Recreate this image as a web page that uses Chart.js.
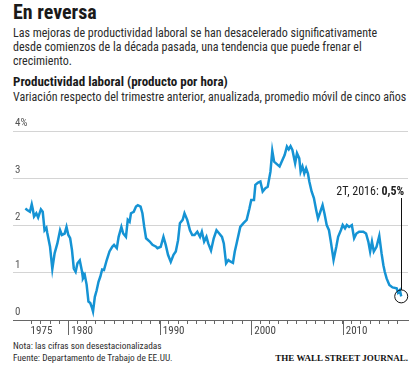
<!DOCTYPE html>
<html lang="es">
<head>
    <meta charset="UTF-8">
    <title>En reversa</title>
    <script src="https://cdn.jsdelivr.net/npm/chart.js@4"></script>
    <style>
        body, html {
            margin: 0;
            padding: 0;
            width: 420px;
            height: 368px;
            overflow: hidden;
            background: #fff;
            font-family: 'Roboto Condensed', Roboto, sans-serif;
            color: #2b2b2b;
        }
        .txt { position: absolute; left: 13px; white-space: nowrap; }
        .title { top: 0; font-size: 20px; font-weight: bold; line-height: 24px; color: #1a1a1a; }
        .dek { top: 26px; font-size: 12px; line-height: 14px; }
        .head { top: 74px; font-size: 13px; font-weight: bold; line-height: 16px; color: #1a1a1a; }
        .sub { top: 89px; font-size: 12px; line-height: 16px; }
        .notes { top: 340px; font-size: 9.3px; line-height: 12.3px; }
        .wsj {
            position: absolute; right: 12px; top: 352px;
            font-family: 'Liberation Serif', serif; font-weight: bold;
            font-size: 9px; line-height: 12px; color: #111;
        }
        #chartBox { position: absolute; left: 0; top: 110px; width: 420px; height: 230px; }
    </style>
</head>
<body>
    <div class="txt title">En reversa</div>
    <div class="txt dek">Las mejoras de productividad laboral se han desacelerado significativamente<br>desde comienzos de la década pasada, una tendencia que puede frenar el<br>crecimiento.</div>
    <div class="txt head">Productividad laboral (producto por hora)</div>
    <div class="txt sub">Variación respecto del trimestre anterior, anualizada, promedio móvil de cinco años</div>

    <div id="chartBox"><canvas id="prodChart" width="420" height="230"></canvas></div>

    <div class="txt notes">Nota: las cifras son desestacionalizadas<br>Fuente: Departamento de Trabajo de EE.UU.</div>
    <div class="wsj">THE WALL STREET JOURNAL.</div>

    <script>
        // quarter positions (decimal years) and 5-yr moving average values, %
        const years = [1975.3,1975.5,1975.8,
            1976.0,1976.1,1976.25,1976.5,1976.7,
            1977.0,1977.2,1977.4,1977.6,1977.7,
            1978.0,1978.25,1978.5,1978.8,
            1979.1,1979.3,1979.6,1979.8,
            1980.0,1980.2,1980.4,1980.6,1980.8,
            1981.0,1981.25,1981.5,1981.6,1981.8,
            1982.0,1982.2,1982.4,1982.6,1982.7,1982.9,
            1983.1,1983.3,1983.5,1983.7,1983.9,
            1984.2,1984.5,1984.8,
            1985.0,1985.3,1985.5,1985.8,
            1986.0,1986.3,1986.5,1986.7,1986.85,
            1987.15,1987.4,1987.6,1987.9,
            1988.1,1988.3,1988.5,1988.9,
            1989.2,1989.6,1989.75,
            1990.1,1990.4,1990.65,1990.9,
            1991.2,1991.5,1991.75,
            1992.0,1992.2,1992.5,1992.7,
            1993.0,1993.3,1993.55,1993.8,
            1994.1,1994.4,1994.6,1994.85,
            1995.1,1995.3,1995.6,1995.9,
            1996.2,1996.5,1996.8,
            1997.0,1997.25,1997.5,1997.7,
            1998.0,1998.2,1998.4,1998.8,
            1999.15,1999.5,1999.8,
            2000.0,2000.3,2000.45,2000.75,
            2001.0,2001.25,2001.55,2001.8,
            2002.1,2002.3,2002.5,2002.8,
            2003.1,2003.35,2003.65,2003.9,
            2004.1,2004.3,2004.5,2004.8,
            2005.0,2005.25,2005.4,2005.6,2005.8,
            2006.0,2006.2,2006.35,2006.6,2006.85,
            2007.1,2007.3,2007.5,2007.8,
            2008.0,2008.25,2008.5,2008.7,
            2009.0,2009.3,2009.5,2009.8,
            2010.0,2010.25,2010.45,2010.7,
            2011.0,2011.25,2011.5,2011.8,
            2012.25,2012.55,2012.8,
            2013.0,2013.2,2013.4,2013.7,
            2014.0,2014.25,2014.45,2014.6,2014.8,
            2015.1,2015.45,2015.9,
            2016.05,2016.25,2016.4];

        const productivity = [2.36,2.33,2.29,
            2.45,2.36,2.19,2.26,2.17,
            2.34,2.29,1.90,1.95,1.84,
            1.55,1.08,1.41,1.62,
            1.90,1.80,1.83,1.97,
            1.80,1.73,1.48,1.09,1.02,
            1.20,1.26,1.02,0.88,0.95,
            0.75,0.39,0.36,0.25,0.18,0.49,
            0.63,0.81,0.92,1.07,1.06,
            1.27,1.45,1.55,
            1.59,1.52,1.76,1.97,
            1.83,1.76,2.12,2.08,2.26,
            2.29,2.40,2.43,2.40,
            2.26,1.97,1.73,1.66,
            1.59,1.55,1.52,
            1.55,1.76,1.59,1.38,
            1.23,1.38,1.45,
            1.69,2.05,2.12,2.26,
            2.12,1.90,1.80,1.80,
            1.87,1.76,1.87,1.66,
            1.76,1.62,1.47,1.73,
            1.90,1.83,1.76,
            1.62,1.20,1.27,1.24,
            1.21,1.45,1.62,1.97,
            2.05,2.12,2.36,
            2.54,2.54,2.86,2.91,
            2.93,2.72,2.79,2.82,
            3.14,3.58,3.35,3.30,
            3.25,3.36,3.49,3.67,
            3.61,3.68,3.60,3.32,
            3.53,3.42,3.14,3.25,3.10,
            3.21,3.10,2.93,2.72,2.58,
            2.33,2.15,2.26,2.43,
            2.26,2.01,1.90,1.66,
            1.27,1.55,1.76,1.90,
            2.01,1.94,2.01,1.97,
            2.01,1.73,1.83,1.87,
            1.87,1.83,1.66,
            1.45,1.66,1.45,1.55,
            1.78,1.41,1.16,1.02,0.88,
            0.74,0.69,0.67,
            0.58,0.63,0.50];

        const yTicks = [0, 1, 2, 3, 4];
        const yTickLabels = ['0', '1', '2', '3', '4%'];
        const decades = [1980, 1990, 2000, 2010];
        const xLabels = [['1975', 1975], ['1980', 1980], ['1990', 1990], ['2000', 2000], ['2010', 2010]];
        const lastLabel = '2T, 2016: ';
        const lastValueLabel = '0,5%';

        const FONT = "'Roboto Condensed', Roboto, sans-serif";
        const BLUE = '#1593d4';

        // decade ticks, year labels and the last-point callout
        const decor = {
            id: 'decor',
            afterDraw(chart) {
                const ctx = chart.ctx;
                const x = chart.scales.x;
                const base = chart.chartArea.bottom;
                ctx.save();
                ctx.strokeStyle = '#666';
                ctx.lineWidth = 1;
                decades.forEach(d => {
                    const px = Math.round(x.getPixelForValue(d)) + 0.5;
                    ctx.beginPath();
                    ctx.moveTo(px, base);
                    ctx.lineTo(px, base + 15);
                    ctx.stroke();
                });
                ctx.fillStyle = '#444';
                ctx.font = '11px ' + FONT;
                ctx.textBaseline = 'middle';
                xLabels.forEach(([txt, yr]) => {
                    let px = x.getPixelForValue(yr) + 3;
                    if (yr === 1975) px += 5;
                    ctx.fillText(txt, px, base + 11);
                });

                // callout
                const meta = chart.getDatasetMeta(0);
                const pt = meta.data[meta.data.length - 1];
                const r = 6.5;
                ctx.strokeStyle = '#111';
                ctx.beginPath();
                ctx.arc(pt.x, pt.y, r, 0, Math.PI * 2);
                ctx.stroke();
                const lx = Math.round(pt.x) + 0.5;
                ctx.beginPath();
                ctx.moveTo(lx, pt.y - r);
                ctx.lineTo(lx, 88);
                ctx.stroke();
                ctx.fillStyle = '#222';
                ctx.textAlign = 'right';
                ctx.font = 'bold 12px ' + FONT;
                const right = pt.x + 3;
                const wBold = ctx.measureText(lastValueLabel).width;
                ctx.fillText(lastValueLabel, right, 82);
                ctx.font = '12px ' + FONT;
                ctx.fillText(lastLabel, right - wBold, 82);
                ctx.restore();
            }
        };

        const ctx = document.getElementById('prodChart').getContext('2d');
        const prodChart = new Chart(ctx, {
            type: 'line',
            data: {
                datasets: [{
                    data: years.map((yr, i) => ({ x: yr, y: productivity[i] })),
                    borderColor: BLUE,
                    borderWidth: 2.5,
                    pointRadius: 0,
                    tension: 0,
                    fill: false
                }]
            },
            options: {
                responsive: false,
                animation: false,
                layout: { padding: { left: 13, right: 12, top: 21, bottom: 0 } },
                plugins: { legend: { display: false }, tooltip: { enabled: false } },
                scales: {
                    x: {
                        type: 'linear',
                        min: 1973.95,
                        max: 2017.14,
                        afterFit(scale) { scale.height = 20; },
                        afterBuildTicks(scale) {
                            scale.ticks = scale.ticks.filter(t => t.value >= 1976 && t.value <= 2016);
                        },
                        ticks: {
                            stepSize: 1,
                            includeBounds: false,
                            autoSkip: false,
                            maxRotation: 0,
                            callback: () => ''
                        },
                        grid: {
                            drawOnChartArea: false,
                            drawTicks: true,
                            tickLength: 4,
                            tickColor: '#666'
                        },
                        border: { display: true, color: '#666', width: 1 }
                    },
                    y: {
                        min: 0,
                        max: 4,
                        afterFit(scale) { scale.width = 0; },
                        afterBuildTicks(scale) {
                            scale.ticks = yTicks.map(v => ({ value: v }));
                        },
                        ticks: {
                            mirror: true,
                            padding: 2,
                            labelOffset: -8,
                            color: '#555',
                            font: { family: FONT, size: 11 },
                            callback: (v) => yTickLabels[yTicks.indexOf(v)]
                        },
                        grid: {
                            drawTicks: false,
                            color: (c) => c.tick && c.tick.value === 0 ? '#666' : '#d4d4d4',
                            lineWidth: 1
                        },
                        border: { display: false }
                    }
                }
            },
            plugins: [decor]
        });
    </script>
</body>
</html>
